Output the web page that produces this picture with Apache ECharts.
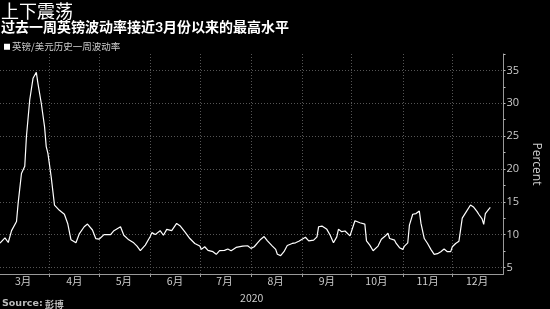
<!DOCTYPE html>
<html>
<head>
<meta charset="utf-8">
<script src="https://cdn.jsdelivr.net/npm/echarts@6/dist/echarts.min.js"></script>
<style>
html,body{margin:0;padding:0;background:#000;}
#chart{width:550px;height:309px;}
</style>
</head>
<body>
<div id="chart"></div>
<script>
// ---- data ----
var dates = [
'2020-03-02','2020-03-05','2020-03-07','2020-03-09','2020-03-12','2020-03-13','2020-03-15','2020-03-17','2020-03-18','2020-03-20',
'2020-03-22','2020-03-24','2020-03-25','2020-03-27','2020-03-29','2020-03-30','2020-03-31','2020-04-02','2020-04-04','2020-04-07',
'2020-04-10','2020-04-12','2020-04-14','2020-04-17','2020-04-19','2020-04-22','2020-04-24','2020-04-27','2020-04-29','2020-05-01',
'2020-05-04','2020-05-08','2020-05-10','2020-05-14','2020-05-16','2020-05-19','2020-05-22','2020-05-24','2020-05-26','2020-05-29',
'2020-06-01','2020-06-02','2020-06-04','2020-06-07','2020-06-09','2020-06-11','2020-06-14','2020-06-17','2020-06-19','2020-06-22',
'2020-06-25','2020-06-28','2020-07-01','2020-07-02','2020-07-04','2020-07-06','2020-07-09','2020-07-11','2020-07-13','2020-07-16',
'2020-07-18','2020-07-20','2020-07-23','2020-07-27','2020-07-30','2020-08-01','2020-08-03','2020-08-05','2020-08-07','2020-08-09',
'2020-08-11','2020-08-14','2020-08-16','2020-08-17','2020-08-19','2020-08-21','2020-08-23','2020-08-26','2020-08-28','2020-08-30',
'2020-09-01','2020-09-03','2020-09-05','2020-09-08','2020-09-10','2020-09-11','2020-09-13','2020-09-16','2020-09-18','2020-09-20',
'2020-09-22','2020-09-23','2020-09-25','2020-09-27','2020-09-28','2020-09-30','2020-10-01','2020-10-03','2020-10-04','2020-10-06',
'2020-10-07','2020-10-09','2020-10-10','2020-10-12','2020-10-14','2020-10-17','2020-10-19','2020-10-21','2020-10-23','2020-10-24',
'2020-10-27','2020-10-28','2020-10-30','2020-10-31','2020-11-01','2020-11-02','2020-11-04','2020-11-05','2020-11-07','2020-11-09',
'2020-11-11','2020-11-12','2020-11-14','2020-11-16','2020-11-18','2020-11-20','2020-11-22','2020-11-24','2020-11-26','2020-11-28',
'2020-11-30','2020-12-01','2020-12-03','2020-12-05','2020-12-07','2020-12-09','2020-12-12','2020-12-14','2020-12-16','2020-12-17',
'2020-12-19','2020-12-20','2020-12-21','2020-12-23','2020-12-24'
];
var volatility = [
8.7,9.5,8.8,10.6,12.0,14.8,19.3,20.4,24.9,30.5,
33.8,34.7,33.0,30.0,26.4,23.4,22.4,18.8,14.5,13.7,
13.1,11.7,9.2,8.75,10.1,11.2,11.6,10.7,9.4,9.3,
10.0,10.0,10.6,11.2,9.9,9.2,8.75,8.25,7.55,8.4,
9.7,10.3,10.0,10.6,9.9,10.8,10.6,11.7,11.35,10.4,
9.4,8.65,8.25,7.75,8.15,7.6,7.4,7.0,7.55,7.6,
7.8,7.55,8.05,8.25,8.3,7.9,8.15,8.75,9.3,9.7,
9.05,8.25,7.75,7.0,6.8,7.4,8.35,8.65,8.75,9.0,
9.3,9.6,9.05,9.15,9.65,11.2,11.3,10.8,9.9,8.75,
9.65,10.8,10.45,10.55,10.8,9.8,9.8,12.1,12.3,11.8,
12.1,11.6,9.05,8.4,7.55,8.25,9.3,9.7,10.2,9.4,
9.15,8.65,8.0,8.15,7.75,8.25,8.75,11.45,13.1,13.2,
13.6,11.7,9.4,8.65,7.75,7.0,7.1,7.4,7.8,7.4,
7.4,8.15,8.65,9.0,12.5,13.3,14.5,14.15,13.5,13.1,
12.4,11.55,13.2,13.85,14.15
];
var monthStarts = ['2020-04-01','2020-05-01','2020-06-01','2020-07-01','2020-08-01','2020-09-01','2020-10-01','2020-11-01','2020-12-01'];
var monthMids = ['2020-03-16','2020-04-16','2020-05-16','2020-06-16','2020-07-16','2020-08-16','2020-09-16','2020-10-16','2020-11-16','2020-12-16'];
var yLabels = [5,10,15,20,25,30,35];
var yTicks = [5,7.5,10,12.5,15,17.5,20,22.5,25,27.5,30,32.5,35,37.5];
var seriesName = '英镑/美元历史一周波动率';

function ts(s){ var p = s.split('-'); return +new Date(+p[0], +p[1]-1, +p[2]); }

var CJK = '"Noto Sans CJK SC", "Noto Sans", sans-serif';
var chart = echarts.init(document.getElementById('chart'), null, {renderer:'canvas'});
var option = {
  backgroundColor: '#000',
  animation: false,
  textStyle: {fontFamily: CJK},
  title: [
    {text: '上下震荡', left: 1, top: 2, padding: 0, textStyle: {color: '#fff', fontSize: 18, fontWeight: 'normal', fontFamily: CJK}},
    {text: '过去一周英镑波动率接近{b|3}月份以来的最高水平', left: 1, top: 20, padding: 0,
     textStyle: {color: '#fff', fontSize: 14, fontWeight: 'bold', fontFamily: CJK,
       rich: {b: {color: '#fff', fontSize: 14, fontWeight: 'bold', fontFamily: 'Lato, sans-serif'}}}},
    {text: '{b|Source:} 彭博', left: 2, top: 299, padding: 0,
     textStyle: {color: '#bbb', fontSize: 9.5, fontFamily: CJK,
       rich: {b: {color: '#bbb', fontSize: 9.5, fontWeight: 'bold', fontFamily: 'Verdana, "DejaVu Sans", sans-serif'}}}}
  ],
  legend: {
    left: 4, top: 42, padding: 0, icon: 'rect', itemWidth: 6, itemHeight: 6, itemGap: 10,
    data: [{name: seriesName, itemStyle: {color: '#fff'}}],
    textStyle: {color: '#ccc', fontSize: 9.5, fontFamily: CJK, padding: [0,0,0,-3]}
  },
  grid: {left: 0, right: 30, top: 54, bottom: 35, containLabel: false},
  xAxis: {
    type: 'value',
    min: ts('2020-03-02'),
    max: ts('2021-01-01'),
    name: '2020', nameLocation: 'middle', nameGap: 19,
    nameTextStyle: {color: '#ccc', fontSize: 10.5, fontFamily: CJK},
    axisLine: {show: true, onZero: false, lineStyle: {color: '#999', width: 1}},
    axisTick: {show: true, length: 3, inside: false, lineStyle: {color: '#999'}, customValues: monthStarts.map(ts)},
    axisLabel: {show: true, color: '#ccc', fontSize: 10.5, margin: 2, fontFamily: CJK,
      customValues: monthMids.map(ts),
      formatter: function(v){ return (new Date(v).getMonth() + 1) + '月'; }},
    splitLine: {show: true, lineStyle: {color: '#555', type: [1, 2], width: 1}}
  },
  yAxis: [{
    type: 'value', position: 'right', min: 4, max: 37.5,
    name: 'Percent', nameLocation: 'middle', nameGap: 19, nameRotate: -90,
    nameTextStyle: {color: '#ccc', fontSize: 12, fontFamily: '"Open Sans", "Noto Sans", sans-serif'},
    axisLine: {show: true, lineStyle: {color: '#999', width: 1}},
    axisTick: {show: true, length: 2, inside: false, lineStyle: {color: '#bbb'}, customValues: yTicks},
    axisLabel: {show: true, color: '#ccc', fontSize: 11, margin: 3, customValues: yLabels,
      fontFamily: '"Open Sans", "Noto Sans", sans-serif'},
    splitLine: {show: false}
  }, {
    type: 'value', position: 'right', min: 4, max: 37.5,
    axisLine: {show: false},
    axisTick: {show: false, customValues: yLabels},
    axisLabel: {show: false, customValues: yLabels},
    splitLine: {show: true, lineStyle: {color: '#555', type: [1, 2], width: 1}}
  }],
  series: [{
    name: seriesName,
    type: 'line',
    yAxisIndex: 0,
    showSymbol: false,
    symbol: 'none',
    smooth: false,
    lineStyle: {color: '#fff', width: 1.2},
    itemStyle: {color: '#fff'},
    data: dates.map(function(d, i){ return [ts(d), volatility[i]]; })
  }]
};
chart.setOption(option);
</script>
</body>
</html>
